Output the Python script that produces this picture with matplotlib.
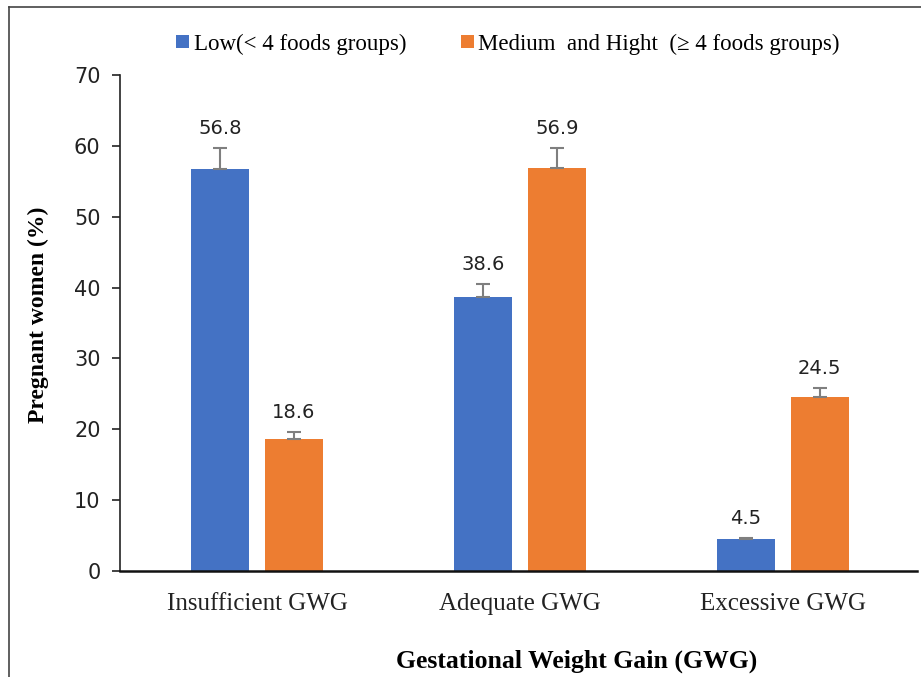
import matplotlib
matplotlib.use("Agg")
import matplotlib.pyplot as plt
import numpy as np
from matplotlib.lines import Line2D
from matplotlib.patches import Patch

categories = ["Insufficient GWG", "Adequate GWG", "Excessive GWG"]
low_vals = [56.8, 38.6, 4.5]
high_vals = [18.6, 56.9, 24.5]
low_err = [2.9, 1.9, 0.2]
high_err = [1.0, 2.8, 1.3]
series_names = ["Low(< 4 foods groups)", "Medium  and Hight  (\u2265 4 foods groups)"]
yticks = [0, 10, 20, 30, 40, 50, 60, 70]

BLUE = "#4472C4"
ORANGE = "#ED7D31"
SERIF = ["Liberation Serif", "DejaVu Serif"]
SANS = ["DejaVu Sans"]

fig = plt.figure(figsize=(9.21, 6.77), dpi=100)
ax = fig.add_axes([120/921, 1-571/677, (917-120)/921, (571-75)/677])

x = np.arange(len(categories))
off = 0.14
w = 0.22
ekw = dict(ecolor="#7f7f7f", elinewidth=1.5, capsize=5, capthick=1.5)
ax.bar(x - off, low_vals, w, color=BLUE, yerr=[[0]*3, low_err], error_kw=ekw, zorder=2)
ax.bar(x + off, high_vals, w, color=ORANGE, yerr=[[0]*3, high_err], error_kw=ekw, zorder=2)

for xs, vals, errs in [(x - off, low_vals, low_err), (x + off, high_vals, high_err)]:
    for xi, v, e in zip(xs, vals, errs):
        ax.annotate(f"{v}", (xi, v + e), xytext=(0, 7), textcoords="offset points",
                    ha="center", va="bottom", fontsize=14, family=SANS, color="#222222")

ax.set_xlim(-0.521, 2.51)
ax.set_ylim(0, 70)
ax.set_yticks(yticks)
ax.set_yticklabels([str(t) for t in yticks], fontsize=15, family=SANS, color="#222222")
ax.set_xticks(x)
ax.set_xticklabels(categories, fontsize=18, family=SERIF, color="#222222")
ax.tick_params(axis="x", length=0, pad=16)
ax.tick_params(axis="y", length=6, width=1.2, direction="out", pad=8, color="#222222")

for s in ["top", "right"]:
    ax.spines[s].set_visible(False)
ax.spines["left"].set_linewidth(1.2)
ax.spines["bottom"].set_linewidth(1.8)
ax.spines["left"].set_color("#222222")
ax.spines["bottom"].set_color("#111111")

ax.set_ylabel("Pregnant women (%)", fontsize=17, family=SERIF, fontweight="bold")
ax.yaxis.set_label_coords(-(120-38)/797, (571-315)/496)
ax.set_xlabel("Gestational Weight Gain (GWG)", fontsize=18.5, family=SERIF, fontweight="bold")
ax.xaxis.set_label_coords((577-120)/797, -(661-571)/496)
ax.xaxis.label.set_va("center")
ax.yaxis.label.set_va("center")

handles = [Patch(facecolor=BLUE, edgecolor="none"), Patch(facecolor=ORANGE, edgecolor="none")]
fig.legend(handles, series_names, loc="center", bbox_to_anchor=(508/921, 1-44/677), ncol=2,
           frameon=False, prop={"family": SERIF, "size": 16.5}, handlelength=0.55,
           handleheight=0.55, handletextpad=0.2, columnspacing=2.4)

# figure border
fig.add_artist(Line2D([9/921, 9/921], [0, 1-7/677], color="#444444", lw=1.2, transform=fig.transFigure))
fig.add_artist(Line2D([9/921, 1], [1-7/677, 1-7/677], color="#444444", lw=1.2, transform=fig.transFigure))

fig.savefig("out.png", dpi=100)
